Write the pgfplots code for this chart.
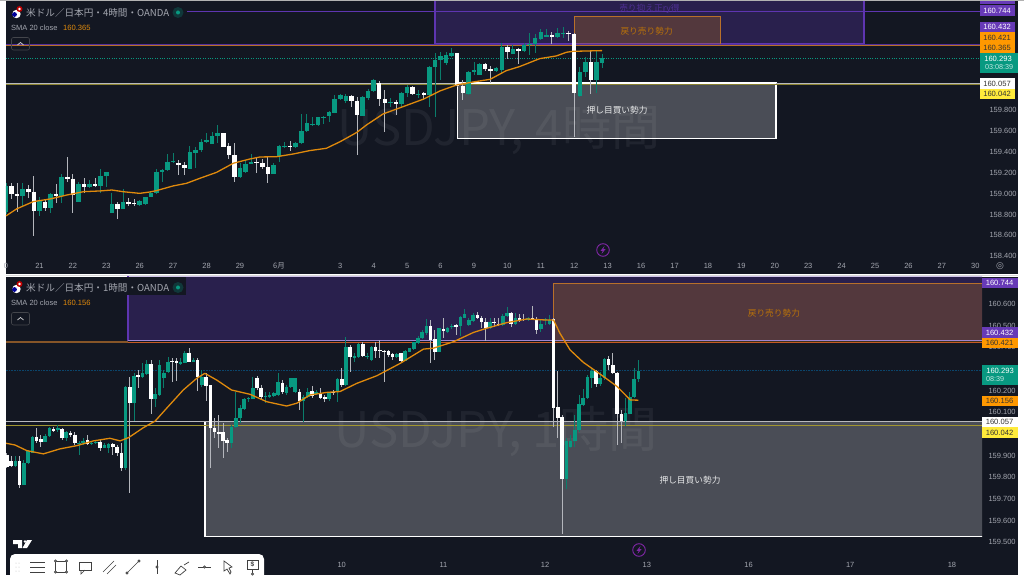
\documentclass[border=0pt]{standalone}
\usepackage{pgfplots}
\usepackage{pgfplotstable}
\usepackage{fontspec}
\pgfplotsset{compat=1.18}
\setmainfont{Liberation Sans}
\newfontfamily\cjk{Noto Sans CJK JP}
\newfontfamily\dejavu{DejaVu Sans}
\definecolor{bg}{HTML}{131722}
\definecolor{tealc}{HTML}{089981}
\definecolor{tealw}{HTML}{0A7D6B}
\definecolor{whitew}{HTML}{B4B6BC}
\definecolor{purp}{HTML}{5E35B1}
\definecolor{purptag}{HTML}{673AB7}
\definecolor{orng}{HTML}{B8702A}
\definecolor{orngtag}{HTML}{FF9800}
\definecolor{yel}{HTML}{FFEB3B}
\definecolor{grayt}{HTML}{A3A6AF}
\definecolor{sma}{HTML}{E08A0C}
\definecolor{wm}{HTML}{FFFFFF}

% x high bodytop bodybottom low
\pgfplotstableread{
x high top bot low
0 159.10 159.073 158.827 158.80
3 159.098 159.047 158.977 158.881
6 158.964 158.929 158.833 158.786
8 159.009 158.996 158.862 158.811
10 159.187 159.162 158.977 158.907
13 159.114 159.089 158.923 158.923
15 159.130 159.089 159.066 159.050
17 159.232 159.172 159.076 159.002
18 159.210 159.204 159.172 159.066
19 159.002 158.897 158.811 158.811
21 159.041 158.916 158.853 158.853
24 158.939 158.929 158.891 158.885
25 158.970 158.967 158.897 158.891
26 159.028 159.002 158.967 158.964
27 159.232 159.210 159.002 158.996
28 159.232 159.226 159.210 159.114
29 159.379 159.306 159.223 159.220
30 159.385 159.312 159.303 159.296
33 159.455 159.395 159.238 159.232
34 159.443 159.417 159.392 159.242
35 159.519 159.497 159.417 159.401
36 159.583 159.516 159.497 159.487
37 159.593 159.551 159.475 159.471
38 159.653 159.577 159.554 159.487
42 159.290 159.248 159.156 159.146
43 159.322 159.283 159.207 159.200
44 159.379 159.299 159.286 159.283
48 159.290 159.274 159.191 159.188
49 159.465 159.459 159.360 159.306
50 159.497 159.455 159.446 159.439
52 159.497 159.487 159.446 159.439
53 159.762 159.599 159.481 159.475
54 159.762 159.672 159.599 159.593
55 159.730 159.666 159.657 159.650
56 159.736 159.730 159.653 159.647
57 159.746 159.736 159.727 159.666
58 159.794 159.784 159.739 159.688
59 159.943 159.908 159.774 159.768
60 159.950 159.940 159.902 159.896
61 159.950 159.934 159.886 159.864
64 159.934 159.921 159.746 159.743
65 159.998 159.985 159.915 159.896
66 160.093 160.087 159.985 159.975
69 159.912 159.876 159.867 159.825
71 159.975 159.966 159.861 159.825
72 160.039 160.023 159.966 159.928
74 159.991 159.956 159.947 159.912
76 160.221 160.215 159.944 159.832
77 160.342 160.279 160.208 159.730
78 160.358 160.317 160.279 160.087
79 160.358 160.323 160.250 160.231
80 160.390 160.349 160.320 160.310
83 160.173 160.160 159.950 159.943
84 160.263 160.183 160.160 160.135
85 160.247 160.237 160.135 160.132
88 160.215 160.199 160.176 160.167
89 160.444 160.403 160.186 160.144
91 160.422 160.384 160.336 160.333
93 160.438 160.425 160.365 160.358
94 160.534 160.435 160.422 160.326
95 160.524 160.486 160.435 160.342
96 160.572 160.550 160.479 160.470
97 160.572 160.518 160.502 160.495
99 160.581 160.537 160.502 160.492
100 160.591 160.537 160.530 160.486
103 160.215 160.160 159.937 159.928
104 160.304 160.256 160.164 160.113
106 160.374 160.256 160.087 159.959
107 160.336 160.294 160.253 160.199
}\topup
\pgfplotstableread{
x high top bot low
1 159.104 159.073 158.996 158.948
2 159.098 158.996 158.977 158.827
4 159.082 159.041 159.012 158.955
5 159.168 159.018 158.833 158.594
7 158.945 158.916 158.862 158.830
9 159.092 158.996 158.977 158.907
11 159.347 159.159 159.137 159.114
12 159.187 159.143 158.983 158.817
14 159.146 159.089 159.066 159.002
16 159.146 159.089 159.073 159.060
20 158.923 158.897 158.853 158.760
22 158.955 158.916 158.900 158.881
23 158.948 158.907 158.897 158.881
31 159.322 159.296 159.277 159.181
32 159.306 159.274 159.242 159.181
39 159.583 159.577 159.449 159.443
40 159.481 159.459 159.366 159.328
41 159.487 159.366 159.159 159.114
45 159.338 159.306 159.293 159.200
46 159.328 159.293 159.251 159.232
47 159.360 159.254 159.191 159.102
51 159.500 159.459 159.446 159.411
62 159.943 159.937 159.886 159.825
63 159.928 159.889 159.752 159.369
67 160.077 160.055 159.905 159.838
68 159.991 159.905 159.870 159.593
70 159.896 159.876 159.861 159.752
73 160.030 160.023 159.950 159.943
75 159.975 159.959 159.940 159.896
81 160.349 160.342 160.030 160.017
82 160.087 160.030 159.959 159.896
86 160.247 160.237 160.189 160.176
87 160.224 160.192 160.173 160.055
90 160.422 160.400 160.358 160.285
92 160.396 160.384 160.365 160.240
98 160.543 160.518 160.499 160.428
101 160.559 160.537 160.527 160.463
102 160.534 160.524 159.963 159.538
105 160.374 160.256 160.087 159.950
}\topdown
\pgfplotstableread{
x high top bot low
2 159.896 159.876 159.854 159.849
4 159.880 159.868 159.765 159.762
5 159.926 159.919 159.865 159.860
6 159.991 159.986 159.914 159.911
9 159.999 159.991 159.965 159.962
10 160.031 160.028 159.991 159.988
12 160.042 160.029 160.017 160.011
14 160.014 160.008 159.980 159.968
17 159.969 159.960 159.954 159.903
18 159.980 159.969 159.960 159.949
20 159.968 159.960 159.956 159.949
21 159.973 159.965 159.957 159.952
23 159.957 159.949 159.937 159.934
24 159.957 159.952 159.934 159.911
28 160.223 160.216 159.842 159.834
30 160.280 160.268 160.142 160.060
32 160.326 160.282 160.262 160.257
33 160.342 160.322 160.279 160.272
35 160.211 160.183 160.160 160.126
36 160.342 160.319 160.180 160.177
37 160.295 160.283 160.257 160.211
38 160.357 160.334 160.288 160.280
41 160.349 160.331 160.325 160.319
42 160.383 160.376 160.329 160.326
44 160.349 160.342 160.334 160.331
46 160.295 160.265 160.226 160.219
53 160.042 160.034 159.957 159.937
54 160.196 160.076 160.032 160.029
55 160.134 160.119 160.072 160.049
56 160.168 160.162 160.116 160.111
57 160.172 160.165 160.160 160.149
58 160.265 160.211 160.162 160.160
61 160.196 160.177 160.171 160.142
62 160.196 160.180 160.171 160.168
63 160.196 160.188 160.177 160.172
64 160.280 160.239 160.180 160.177
66 160.226 160.219 160.188 160.180
67 160.260 160.257 160.216 160.211
68 160.260 160.257 160.192 160.188
70 160.180 160.172 160.152 160.057
71 160.211 160.196 160.169 160.165
73 160.203 160.196 160.186 160.180
76 160.196 160.192 160.160 160.152
78 160.257 160.252 160.196 160.149
80 160.449 160.403 160.226 160.223
82 160.372 160.360 160.352 160.331
83 160.419 160.414 160.357 160.349
85 160.372 160.360 160.354 160.346
86 160.408 160.402 160.340 160.337
92 160.376 160.371 160.357 160.352
94 160.388 160.383 160.339 160.337
95 160.399 160.396 160.380 160.377
96 160.426 160.423 160.392 160.388
97 160.452 160.445 160.420 160.416
98 160.480 160.469 160.442 160.439
99 160.531 160.499 160.465 160.457
102 160.491 160.488 160.380 160.377
104 160.495 160.488 160.472 160.465
105 160.506 160.500 160.492 160.485
107 160.545 160.542 160.499 160.452
108 160.577 160.554 160.537 160.534
109 160.537 160.526 160.503 160.500
110 160.557 160.549 160.522 160.519
114 160.537 160.516 160.488 160.485
117 160.552 160.546 160.503 160.500
118 160.588 160.559 160.546 160.542
120 160.557 160.534 160.508 160.503
123 160.542 160.537 160.528 160.523
126 160.531 160.506 160.483 160.472
127 160.537 160.529 160.526 160.503
128 160.549 160.528 160.508 160.503
132 159.980 159.968 159.791 159.746
133 159.996 159.969 159.942 159.937
134 160.088 160.019 159.968 159.942
135 160.180 160.137 160.016 160.011
136 160.208 160.168 160.134 160.131
137 160.272 160.263 160.165 160.162
138 160.303 160.291 160.260 160.211
140 160.288 160.260 160.229 160.223
141 160.349 160.346 160.257 160.249
146 160.165 160.096 160.060 160.039
147 160.196 160.171 160.094 160.091
148 160.303 160.254 160.169 160.165
149 160.342 160.292 160.254 160.239
}\botup
\pgfplotstableread{
x high top bot low
0 159.911 159.903 159.849 159.842
1 159.896 159.876 159.852 159.849
3 159.896 159.876 159.765 159.749
7 160.026 159.988 159.968 159.957
8 159.996 159.976 159.965 159.942
11 160.031 160.023 160.014 160.008
13 160.029 160.023 159.980 159.972
15 160.014 160.006 159.994 159.988
16 160.008 159.997 159.957 159.949
19 159.996 159.974 159.954 159.949
22 159.973 159.965 159.934 159.922
25 159.960 159.952 159.942 159.903
26 159.949 159.942 159.911 159.896
27 159.957 159.914 159.845 159.829
29 160.265 160.216 160.142 159.726
31 160.295 160.272 160.262 160.211
34 160.342 160.322 160.162 160.092
39 160.349 160.337 160.331 160.242
40 160.349 160.337 160.326 160.245
43 160.396 160.376 160.334 160.331
45 160.349 160.342 160.262 160.199
47 160.280 160.263 160.223 160.152
48 160.226 160.226 160.026 159.842
49 160.076 160.029 160.008 159.980
50 160.088 160.011 159.999 159.934
51 160.049 160.008 159.968 159.888
52 159.980 159.972 159.957 159.916
59 160.268 160.260 160.211 160.203
60 160.226 160.214 160.172 160.162
65 160.249 160.237 160.192 160.183
69 160.208 160.196 160.152 160.111
72 160.223 160.199 160.176 160.168
74 160.211 160.191 160.168 160.162
75 160.180 160.169 160.160 160.146
77 160.203 160.196 160.188 160.180
79 160.303 160.254 160.226 160.219
81 160.411 160.400 160.354 160.288
84 160.426 160.417 160.360 160.357
87 160.426 160.402 160.385 160.349
88 160.434 160.388 160.385 160.352
89 160.388 160.385 160.380 160.242
90 160.388 160.383 160.365 160.357
91 160.376 160.368 160.357 160.342
93 160.376 160.372 160.339 160.331
100 160.526 160.499 160.434 160.326
101 160.480 160.437 160.380 160.342
103 160.534 160.485 160.476 160.442
106 160.506 160.503 160.495 160.457
111 160.565 160.549 160.534 160.529
112 160.546 160.534 160.519 160.488
113 160.537 160.519 160.488 160.429
115 160.537 160.517 160.511 160.495
116 160.534 160.509 160.503 160.499
119 160.565 160.559 160.506 160.495
121 160.552 160.534 160.526 160.519
122 160.556 160.529 160.525 160.522
124 160.592 160.534 160.529 160.526
125 160.542 160.531 160.480 160.460
129 160.534 160.531 160.122 160.034
130 160.291 160.123 160.076 159.980
131 160.088 160.080 159.792 159.537
139 160.295 160.291 160.229 160.219
142 160.360 160.346 160.319 160.295
143 160.374 160.319 160.283 160.276
144 160.285 160.283 160.091 159.949
145 160.111 160.092 160.060 159.957
}\botdown

\newcommand{\candles}[4]{% table, wick colour, body colour, body width
  \addplot[draw=none,forget plot,error bars/.cd,y dir=both,y explicit,error mark=none,
    error bar style={line width=0.9pt,color=#2}]
    table[x=x,y=top,y error plus expr=\thisrow{high}-\thisrow{top},y error minus expr=\thisrow{top}-\thisrow{low}] {#1};
  \addplot[draw=none,forget plot,error bars/.cd,y dir=both,y explicit,error mark=none,
    error bar style={line width=#4,color=#3}]
    table[x=x,y=top,y error plus expr=0,y error minus expr=\thisrow{top}-\thisrow{bot}] {#1};
}
\newcommand{\pr}[2]{({#1pt},{578pt-#2pt})}
\newcommand{\tagt}[7]{% x1 y1 x2 y2 fill textcolour text
  \fill[#5] \pr{#1}{#2} rectangle \pr{#3}{#4};
  \node[font=\fontsize{7.6pt}{8pt}\selectfont,text=#6,anchor=center,inner sep=0pt] at ({(#1pt+#3pt)/2-0.5pt},{578pt-(#2pt+#4pt)/2}) {#7};
}
\pgfplotsset{panel/.style={
  scale only axis,clip=true,
  axis line style={draw=none},
  major tick length=0pt,
  tick style={draw=none},
  ticklabel style={text=grayt,font=\fontsize{7.5pt}{8pt}\selectfont},
  yticklabel pos=right,
  yticklabel style={anchor=west,xshift=3pt,/pgf/number format/fixed,/pgf/number format/fixed zerofill,/pgf/number format/precision=3,/pgf/number format/assume math mode=true},
  xticklabel style={anchor=center,yshift=-9pt},
  grid=none,
}}

\begin{document}
\begin{tikzpicture}[x=1pt,y=1pt]
\useasboundingbox (0,0) rectangle (1024pt,578pt);
\fill[white] (0,0) rectangle (1024pt,578pt);
\fill[bg] \pr{5.5}{1.5} rectangle \pr{1018}{274};
\fill[bg] \pr{5.5}{277} rectangle \pr{1018}{574.5};
\fill[gray!60] \pr{0}{0} rectangle \pr{1024}{1.5};
\fill[gray!30] \pr{5.5}{274.8} rectangle \pr{1018}{276.4};

% ---------------- top panel
\begin{axis}[panel,at={(6pt,321pt)},anchor=south west,width=976pt,height=255pt,
  xmin=0,xmax=175.2,ymin=158.393,ymax=160.833,
  xtick={0,6,12,18,24,30,36,42,49,60,66,72,78,84,90,96,102,108,114,120,126,132,138,144,150,156,162,168,174},
  xticklabels={0,21,22,23,26,27,28,29,{\cjk 6月},3,4,5,6,9,10,11,12,13,16,17,18,19,20,23,24,25,26,27,30},
  yticklabel style={xshift=1pt},
  ytick={158.4,158.6,158.8,159,159.2,159.4,159.6,159.8}]
\node[text=wm,text opacity=0.06,font=\fontsize{49pt}{50pt}\selectfont\cjk,anchor=center] at (axis cs:88.5,159.61) {USDJPY, 4時間};
% zones
\addplot[draw=purp,line width=1.3pt,fill=purp,fill opacity=0.3] coordinates {(77,160.432)(154,160.432)(154,160.95)(77,160.95)} -- cycle;
\addplot[draw=orng,line width=1.2pt,fill=orngtag,fill opacity=0.2] coordinates {(102,160.421)(128.2,160.421)(128.2,160.695)(102,160.695)} -- cycle;
\addplot[draw=white,line width=1.3pt,fill=white,fill opacity=0.235] coordinates {(81,159.526)(138.2,159.526)(138.2,160.057)(81,160.057)} -- cycle;
% horizontal levels
\addplot[purp,line width=0.8pt] coordinates {(32.5,160.744)(176,160.744)};
\addplot[orng,line width=0.8pt] coordinates {(0,160.421)(176,160.421)};
\addplot[purp!85!bg,line width=0.6pt] coordinates {(0,160.432)(176,160.432)};
\addplot[white!70!bg,line width=1pt] coordinates {(0,160.057)(176,160.057)};
\addplot[yel!50!bg,line width=0.6pt] coordinates {(0,160.042)(176,160.042)};
\addplot[white,line width=1.2pt] coordinates {(81,160.057)(138.2,160.057)};
\addplot[tealc,line width=0.8pt,dash pattern=on 1pt off 1.4pt] coordinates {(0,160.293)(176,160.293)};
% candles
\candles{\topup}{tealw}{tealc}{4.5pt}
\candles{\topdown}{whitew}{white}{4.5pt}
% SMA 20
\addplot[sma,line width=1.3pt,line join=round] coordinates {(0,158.786)(1.9,158.853)(4.9,158.923)(7.9,158.948)(10.9,158.986)(13.9,159.018)(16.9,159.025)(19,159.034)(21,159.018)(24,159.002)(25.8,159.015)(27,159.028)(30,159.073)(32.4,159.098)(34.8,159.146)(37.8,159.203)(40.8,159.290)(43.8,159.331)(45.6,159.350)(48.6,159.353)(51.6,159.379)(54.5,159.411)(57.5,159.433)(60,159.497)(63,159.586)(64.7,159.656)(67.7,159.762)(71.3,159.832)(75,159.905)(77.9,159.982)(80.9,160.039)(83.9,160.068)(86.9,160.093)(89.8,160.176)(92.2,160.215)(95.8,160.291)(98.8,160.317)(100.6,160.352)(101.8,160.361)(104.8,160.365)(107,160.368)};
\node[text=orngtag!70!bg,font=\fontsize{8.7pt}{9pt}\selectfont\cjk,anchor=center] at (axis cs:115,160.557) {戻り売り勢力};
\node[text=white!90!bg,font=\fontsize{8.7pt}{9pt}\selectfont\cjk,anchor=center] at (axis cs:109.7,159.80) {押し目買い勢力};
\node[text=purp!80!bg,font=\fontsize{8.7pt}{9pt}\selectfont\cjk,anchor=center] at (axis cs:115.5,160.77) {売り抑え正ry得};
\end{axis}
\fill[bg] \pr{982}{258} rectangle \pr{1018}{274};

% ---------------- bottom panel
\begin{axis}[panel,at={(6pt,28pt)},anchor=south west,width=976pt,height=273pt,
  xmin=-0.22,xmax=230.1,ymin=159.464,ymax=160.725,
  xtick={79,103,127,151,175,199,223},
  xticklabels={10,11,12,13,16,17,18},
  xticklabel style={yshift=-6pt},
  ytick={159.5,159.6,159.7,159.8,159.9,160.1,160.2,160.4,160.5,160.6}]
\node[text=wm,text opacity=0.06,font=\fontsize{49pt}{50pt}\selectfont\cjk,anchor=center] at (axis cs:115.5,160.010) {USDJPY, 1時間};
\addplot[draw=purp,line width=1.3pt,fill=purp,fill opacity=0.3] coordinates {(28.6,160.432)(235,160.432)(235,160.85)(28.6,160.85)} -- cycle;
\addplot[draw=orng,line width=1.2pt,fill=orngtag,fill opacity=0.2] coordinates {(128.9,160.421)(235,160.421)(235,160.695)(128.9,160.695)} -- cycle;
\addplot[draw=white,line width=1.3pt,fill=white,fill opacity=0.235] coordinates {(46.75,159.526)(235,159.526)(235,160.057)(46.75,160.057)} -- cycle;
\addplot[orng!70!bg,line width=1.3pt] coordinates {(-1,160.425)(28.6,160.425)};
\addplot[orng!80!red,line width=1.2pt] coordinates {(28.6,160.421)(235,160.421)};
\addplot[purp!60!white,line width=0.7pt] coordinates {(28.6,160.432)(235,160.432)};
\addplot[white!70!bg,line width=1pt] coordinates {(-1,160.057)(235,160.057)};
\addplot[yel!60!bg,line width=0.7pt] coordinates {(-1,160.042)(235,160.042)};
\addplot[tealc!70!blue,line width=1pt,opacity=0.55,dash pattern=on 0.7pt off 0.9pt] coordinates {(-1,160.293)(235,160.293)};
\candles{\botup}{tealw}{tealc}{3.6pt}
\candles{\botdown}{whitew}{white}{3.6pt}
\addplot[sma,line width=1.3pt,line join=round] coordinates {(-0.2,159.957)(1.9,159.949)(4.7,159.923)(8.6,159.908)(12.5,159.931)(16.5,159.946)(20.4,159.968)(24.3,159.980)(26.7,159.968)(28.7,159.983)(32.2,160.029)(35,160.060)(37.7,160.119)(41.6,160.203)(44.8,160.257)(46.7,160.280)(49.5,160.249)(53,160.203)(57.4,160.183)(61.3,160.149)(66,160.129)(68.4,160.142)(71.5,160.180)(75.5,160.192)(78.6,160.196)(82.6,160.234)(87.3,160.269)(92.8,160.326)(98.3,160.392)(100.6,160.396)(105.4,160.426)(110.1,160.469)(113.2,160.488)(117.9,160.514)(122.7,160.531)(127.4,160.526)(129,160.526)(130.5,160.465)(132.9,160.388)(136,160.331)(140.8,160.265)(144,160.219)(147.1,160.157)(149,160.156)};
\node[text=orngtag!70!bg,font=\fontsize{8.7pt}{9pt}\selectfont\cjk,anchor=center] at (axis cs:181,160.56) {戻り売り勢力};
\node[text=white!90!bg,font=\fontsize{8.7pt}{9pt}\selectfont\cjk,anchor=center] at (axis cs:161.2,159.788) {押し目買い勢力};
\end{axis}

% ---------------- price tags, top
\tagt{980}{1.5}{1015}{4}{purptag}{white}{}
\tagt{980}{5}{1015}{16}{purptag}{white}{160.744}
\tagt{980}{22}{1015}{32}{purptag}{white}{160.432}
\tagt{980}{32}{1015}{43}{orngtag}{black!80}{160.421}
\tagt{980}{43}{1015}{53}{orngtag}{black!80}{160.365}
\fill[tealc] \pr{980}{53} rectangle \pr{1018}{73};
\node[font=\fontsize{7.6pt}{8pt}\selectfont,text=white,inner sep=0] at \pr{998}{58.5} {160.293};
\node[font=\fontsize{7.2pt}{8pt}\selectfont,text=white!75!tealc,inner sep=0] at \pr{999}{67.5} {03:08:39};
\tagt{980}{78}{1015}{89}{white}{black!80}{160.057}
\tagt{980}{89}{1015}{99}{yel}{black!80}{160.042}
% ---------------- price tags, bottom
\tagt{982}{278}{1018}{288}{purptag}{white}{160.744}
\tagt{982}{327}{1018}{338}{purptag}{white}{160.432}
\tagt{982}{338}{1018}{348}{orngtag}{black!80}{160.421}
\fill[tealc] \pr{982}{365} rectangle \pr{1018}{385};
\node[font=\fontsize{7.6pt}{8pt}\selectfont,text=white,inner sep=0] at \pr{1000}{370.5} {160.293};
\node[font=\fontsize{7.2pt}{8pt}\selectfont,text=white!75!tealc,inner sep=0] at \pr{995}{379.5} {08:39};
\tagt{982}{396}{1018}{406}{orngtag}{black!80}{160.156}
\tagt{982}{417}{1018}{427}{white}{black!80}{160.057}
\tagt{982}{427}{1018}{438}{yel}{black!80}{160.042}

% ---------------- legends
\foreach \dy/\tf/\val in {0/4/160.365,275/1/160.156}{
  \begin{scope}[yshift=-\dy pt]
  \fill[bg] \pr{6}{2} rectangle \pr{186}{20};
  \fill[white] \pr{16.5}{14} circle (4.2pt);
  \fill[blue!60!black] \pr{14.5}{14.5} circle (2.4pt);
  \fill[red!75!black] \pr{19.5}{9} circle (3pt);
  \fill[white] \pr{19.5}{9} circle (1.4pt);
  \node[anchor=west,inner sep=0,text=grayt,font=\fontsize{9.6pt}{10pt}\selectfont\cjk] at \pr{26}{12.5} {米ドル／日本円・\tf 時間・OANDA};
  \fill[tealc!25!bg] \pr{178}{12.5} circle (5.5pt);
  \fill[tealc] \pr{178}{12.5} circle (2pt);
  \node[anchor=west,inner sep=0,text=grayt,font=\fontsize{7.5pt}{8pt}\selectfont] at \pr{11}{28} {SMA 20 close};
  \node[anchor=west,inner sep=0,text=sma,font=\fontsize{7.6pt}{8pt}\selectfont] at \pr{63}{28} {\val};
  \draw[gray!45!bg,line width=0.6pt,rounded corners=2pt] \pr{11.5}{37.5} rectangle \pr{29.5}{50};
  \draw[white!75!bg,line width=0.8pt] \pr{17.5}{45} -- \pr{20.5}{42.5} -- \pr{23.5}{45};
  \end{scope}
}
\node[anchor=center,inner sep=0,text=grayt,font=\fontsize{9pt}{9pt}\selectfont] at \pr{1000}{266} {\dejavu ◎};

% lightning buttons
\foreach \cx/\cy in {603/250,639/550}{
  \draw[purple!55!blue!85!white,line width=0.9pt] \pr{\cx}{\cy} circle (6.3pt);
  \fill[purple!55!blue!85!white] ({\cx pt+1.5pt},{578pt-\cy pt+4pt}) -- ({\cx pt-2.5pt},{578pt-\cy pt-0.8pt}) -- ({\cx pt-0.3pt},{578pt-\cy pt-0.8pt}) -- ({\cx pt-1.5pt},{578pt-\cy pt-4pt}) -- ({\cx pt+2.5pt},{578pt-\cy pt+0.8pt}) -- ({\cx pt+0.3pt},{578pt-\cy pt+0.8pt}) -- cycle;
}

% TradingView logo
\fill[white] \pr{13}{540} -- \pr{22}{540} -- \pr{22}{548} -- \pr{18}{548} -- \pr{18}{544} -- \pr{13}{544} -- cycle;
\fill[white] \pr{25}{541.5} circle (1.4pt);
\fill[white] \pr{27}{540} -- \pr{32}{540} -- \pr{27}{548} -- \pr{22.5}{548} -- cycle;

% toolbar
\fill[white,rounded corners=5pt] \pr{10}{554} rectangle \pr{264}{584};
\fill[white] \pr{10}{570} rectangle \pr{264}{578};
\begin{scope}[black!75,line width=0.7pt]
  \foreach \y in {562,567,572} \draw \pr{30}{\y} -- \pr{45}{\y};
  \draw \pr{55.5}{561} rectangle \pr{66.5}{572};
  \foreach \a/\b in {55.5/561,66.5/561,55.5/572,66.5/572} \draw[fill=white] \pr{\a}{\b} circle (1.2pt);
  \draw \pr{79.5}{562} rectangle \pr{91}{570}; \draw \pr{81}{570} -- \pr{81}{574} -- \pr{85}{570};
  \draw \pr{103}{572} -- \pr{114}{561}; \draw \pr{107}{574} -- \pr{116}{565};
  \draw \pr{127}{573} -- \pr{139}{561};
  \foreach \a/\b in {127/573,139/561} \draw[fill=white] \pr{\a}{\b} circle (1.2pt);
  \draw \pr{157}{560} -- \pr{157}{574}; \draw[fill=white] \pr{157}{567} circle (1.2pt);
  \draw \pr{175}{573} -- \pr{181}{566} -- \pr{186}{570} -- \pr{180}{575} -- cycle; \draw \pr{184}{565} -- \pr{189}{562};
  \draw \pr{198}{567} -- \pr{211}{567}; \draw[fill=white] \pr{204.5}{567} circle (1.2pt);
  \draw \pr{224}{561} -- \pr{224}{571} -- \pr{227}{569} -- \pr{230}{574} -- \pr{231}{572} -- \pr{229}{568} -- \pr{232}{567} -- cycle;
  \draw \pr{247}{560} rectangle \pr{258}{569};
  \draw \pr{252.5}{569} -- \pr{252.5}{574};
  \node[inner sep=0,font=\fontsize{6.5pt}{7pt}\selectfont\bfseries] at \pr{252.5}{564.5} {\$};
  \draw[fill=white] \pr{252.5}{574} circle (1.2pt);
\end{scope}
\foreach \a in {16,19} \foreach \b in {563,567,571} \fill[gray!50] \pr{\a}{\b} circle (0.5pt);
\end{tikzpicture}
\end{document}
